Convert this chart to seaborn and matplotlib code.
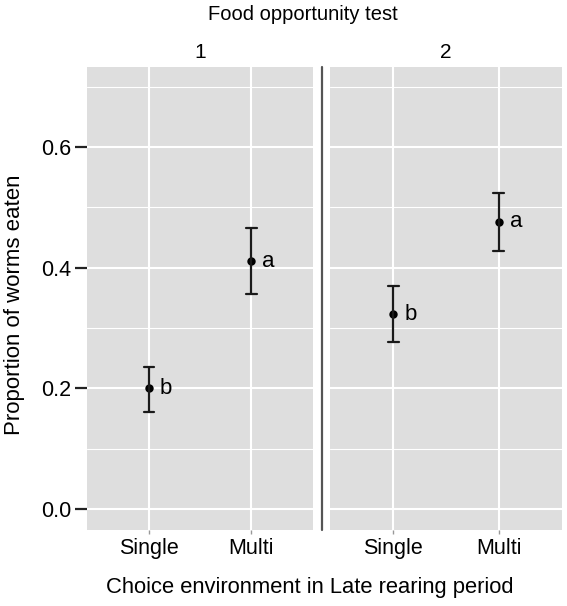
import matplotlib
matplotlib.use("Agg")
import matplotlib.pyplot as plt
from matplotlib.lines import Line2D
import pandas as pd
import seaborn as sns

# values
TESTS = ["1", "2"]
ENVIRONMENTS = ["Single", "Multi"]
MEAN = {"1": [0.200, 0.411], "2": [0.323, 0.476]}
LOWER = {"1": [0.161, 0.357], "2": [0.277, 0.428]}
UPPER = {"1": [0.235, 0.466], "2": [0.370, 0.524]}
LETTERS = {"1": ["b", "a"], "2": ["b", "a"]}
Y_TICKS = [0.0, 0.2, 0.4, 0.6]
Y_MINOR = [0.1, 0.3, 0.5, 0.7]

PANEL_BG = "#DEDEDE"


def build_frame() -> pd.DataFrame:
    # three rows per cell: median gives the point, min/max give the bar
    rows = []
    for test in TESTS:
        for i, env in enumerate(ENVIRONMENTS):
            for v in (LOWER[test][i], MEAN[test][i], UPPER[test][i]):
                rows.append({"test": test, "env": env, "value": v})
    return pd.DataFrame(rows)


def style_panel(ax: plt.Axes, show_y: bool) -> None:
    ax.set_facecolor(PANEL_BG)
    for side in ax.spines.values():
        side.set_visible(False)
    ax.set_xlim(-0.6, 1.6)
    ax.set_ylim(-0.035, 0.733)
    ax.set_yticks(Y_TICKS)
    ax.set_yticks(Y_MINOR, minor=True)
    ax.grid(which="major", color="white", linewidth=1.5)
    ax.grid(which="minor", axis="y", color="white", linewidth=0.8)
    ax.set_axisbelow(True)
    ax.tick_params(axis="x", bottom=True, length=3, color="#999999", width=1,
                   pad=3, labelsize=15.5, labelcolor="black")
    ax.tick_params(axis="y", which="major", left=True, length=8.5,
                   color="#222222", width=1.6, pad=2.5, labelsize=15.5,
                   labelcolor="black")
    ax.tick_params(axis="y", which="minor", length=0)
    if show_y:
        ax.set_yticklabels([f"{t:.1f}" for t in Y_TICKS])
    else:
        ax.tick_params(axis="y", which="major", length=0, labelleft=False)
    ax.set_xlabel("")
    ax.set_ylabel("")


def main() -> None:
    sns.set_theme(style="darkgrid")
    plt.rcParams["font.family"] = ["Liberation Sans", "DejaVu Sans"]
    plt.rcParams["text.color"] = "black"

    df = build_frame()
    fig = plt.figure(figsize=(5.67, 6.06), dpi=100)
    bottom, top = 1 - 530 / 606, 1 - 67 / 606
    boxes = [(87 / 567, 313 / 567), (330 / 567, 562 / 567)]

    for k, test in enumerate(TESTS):
        x0, x1 = boxes[k]
        ax = fig.add_axes([x0, bottom, x1 - x0, top - bottom])
        sns.pointplot(
            data=df[df["test"] == test], x="env", y="value",
            order=ENVIRONMENTS, estimator="median", errorbar=("pi", 100),
            color="black", linestyle="none", capsize=0.1, markersize=4,
            err_kws={"linewidth": 1.6, "color": "#1a1a1a"}, ax=ax,
        )
        for i, letter in enumerate(LETTERS[test]):
            ax.annotate(letter, xy=(i, MEAN[test][i]), xytext=(8, 0),
                        textcoords="offset points", ha="left", va="center",
                        fontsize=16, color="black")
        style_panel(ax, show_y=(k == 0))
        fig.text((x0 + x1) / 2, 1 - 53 / 606, test, ha="center",
                 va="center", fontsize=15)

    fig.add_artist(Line2D([322 / 567] * 2, [bottom, top], color="#555555",
                          linewidth=1.6))
    fig.text(303 / 567, 1 - 15 / 606, "Food opportunity test", ha="center",
             va="center", fontsize=14.5)
    fig.text(310 / 567, 1 - 587 / 606, "Choice environment in Late rearing period",
             ha="center", va="center", fontsize=15.8)
    fig.text(15 / 567, 1 - 305 / 606, "Proportion of worms eaten", ha="center",
             va="center", rotation=90, fontsize=16)

    fig.savefig("out.png", dpi=100, facecolor="white")


if __name__ == "__main__":
    main()
